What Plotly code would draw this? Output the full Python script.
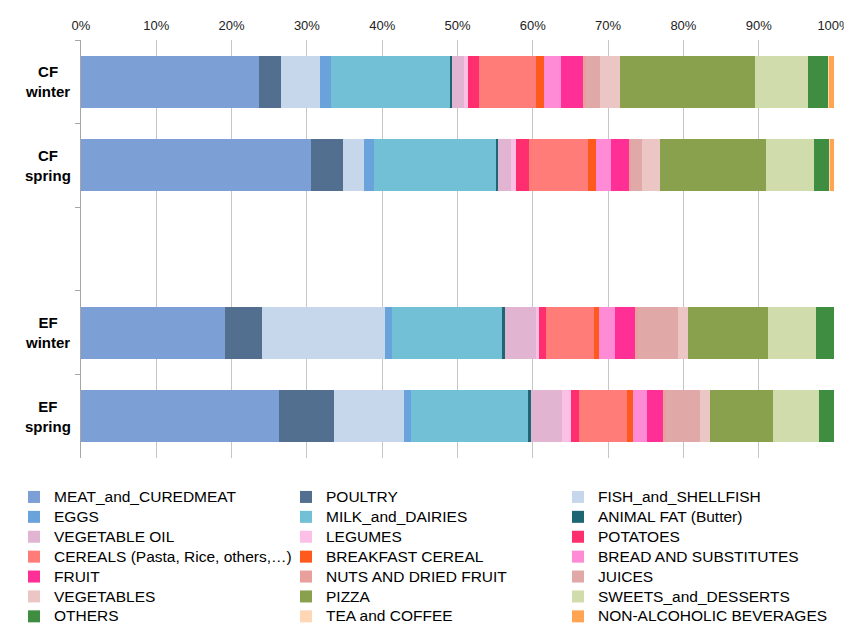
import plotly.graph_objects as go

# Row categories (top to bottom); the blank one is an empty slot between CF and EF
rows = ["CF<br>winter", "CF<br>spring", " ", "EF<br>winter", "EF<br>spring"]
data_rows = ["CF<br>winter", "CF<br>spring", "EF<br>winter", "EF<br>spring"]

# Share (%) of each food group per row: [CF winter, CF spring, EF winter, EF spring]
meat_and_curedmeat = [23.7, 30.5, 19.2, 26.3]
poultry = [2.9, 4.25, 4.9, 7.3]
fish_and_shellfish = [5.2, 2.8, 16.3, 9.35]
eggs = [1.4, 1.3, 0.9, 0.97]
milk_and_dairies = [15.9, 16.3, 14.7, 15.5]
animal_fat = [0.3, 0.2, 0.35, 0.35]
vegetable_oil = [1.6, 1.7, 4.1, 4.2]
legumes = [0.45, 0.7, 0.4, 1.2]
potatoes = [1.55, 1.7, 1.0, 1.0]
cereals = [7.5, 7.9, 6.4, 6.4]
breakfast_cereal = [1.05, 1.1, 0.6, 0.75]
bread_and_substitutes = [2.35, 2.0, 2.1, 1.85]
fruit = [2.9, 2.3, 2.7, 2.2]
nuts_and_dried_fruit = [0.3, 0.3, 0.4, 0.4]
juices = [1.9, 1.5, 5.3, 4.5]
vegetables = [2.65, 2.4, 1.4, 1.3]
pizza = [18.0, 14.0, 10.6, 8.45]
sweets_and_desserts = [7.1, 6.45, 6.4, 6.05]
others = [2.65, 1.95, 2.35, 2.0]
tea_and_coffee = [0.15, 0.1, 0.0, 0.0]
non_alcoholic_beverages = [0.6, 0.55, 0.0, 0.0]

series = [
    ("MEAT_and_CUREDMEAT", meat_and_curedmeat, "#7C9FD5"),
    ("POULTRY", poultry, "#526F8F"),
    ("FISH_and_SHELLFISH", fish_and_shellfish, "#C6D7EB"),
    ("EGGS", eggs, "#6AA2DC"),
    ("MILK_and_DAIRIES", milk_and_dairies, "#72C0D5"),
    ("ANIMAL FAT (Butter)", animal_fat, "#1F6674"),
    ("VEGETABLE OIL", vegetable_oil, "#E1B5D1"),
    ("LEGUMES", legumes, "#FCC0E6"),
    ("POTATOES", potatoes, "#FF2E6E"),
    ("CEREALS (Pasta, Rice, others,\u2026)", cereals, "#FF7C78"),
    ("BREAKFAST CEREAL", breakfast_cereal, "#FF5A1E"),
    ("BREAD AND SUBSTITUTES", bread_and_substitutes, "#FF8AD5"),
    ("FRUIT", fruit, "#FF2F96"),
    ("NUTS AND DRIED FRUIT", nuts_and_dried_fruit, "#E9A09D"),
    ("JUICES", juices, "#E0A9A8"),
    ("VEGETABLES", vegetables, "#EBC6C5"),
    ("PIZZA", pizza, "#89A04D"),
    ("SWEETS_and_DESSERTS", sweets_and_desserts, "#D0DCAC"),
    ("OTHERS", others, "#3E8D41"),
    ("TEA and COFFEE", tea_and_coffee, "#FFD7B5"),
    ("NON-ALCOHOLIC BEVERAGES", non_alcoholic_beverages, "#FFA552"),
]

fig = go.Figure()
for name, vals, color in series:
    fig.add_trace(go.Bar(
        y=data_rows, x=vals, orientation="h",
        name='<span style="font-size:15.5px">%s</span>' % name,
        marker=dict(color=color, line=dict(width=0)),
    ))

annotations = [
    dict(x=-0.044, xref="paper", y=r, yref="y", text="<b>%s</b>" % r,
         showarrow=False, xanchor="center", yanchor="middle", align="center",
         font=dict(family="Liberation Sans, Arial", size=15, color="#000"))
    for r in data_rows
]

fig.update_layout(
    width=844, height=616,
    barmode="stack", barnorm="percent", bargap=0.38,
    paper_bgcolor="white", plot_bgcolor="white",
    margin=dict(l=73, r=18, t=32, b=166, autoexpand=False),
    font=dict(family="Liberation Sans, Arial", color="#000"),
    xaxis=dict(
        side="top", range=[0, 100], dtick=10, ticksuffix="%",
        showgrid=True, gridcolor="#C6C6C6", gridwidth=1, zeroline=False,
        showline=False, ticks="", ticklabelstandoff=6,
        tickfont=dict(family="Liberation Sans, Arial", size=13, color="#222"),
    ),
    yaxis=dict(
        type="category", categoryorder="array", categoryarray=rows,
        autorange="reversed", showticklabels=False, showgrid=False,
        showline=True, linecolor="#A6A6A6", linewidth=1,
        ticks="outside", ticklen=5, tickcolor="#A6A6A6", tickson="boundaries",
    ),
    legend=dict(
        orientation="h", x=-0.089, xanchor="left", y=-0.0574, yanchor="top",
        entrywidth=227, entrywidthmode="pixels", traceorder="normal",
        font=dict(family="Liberation Sans, Arial", size=13, color="#000"),
        tracegroupgap=0,
    ),
    annotations=annotations,
    showlegend=True,
)

fig.write_html("out.html")
